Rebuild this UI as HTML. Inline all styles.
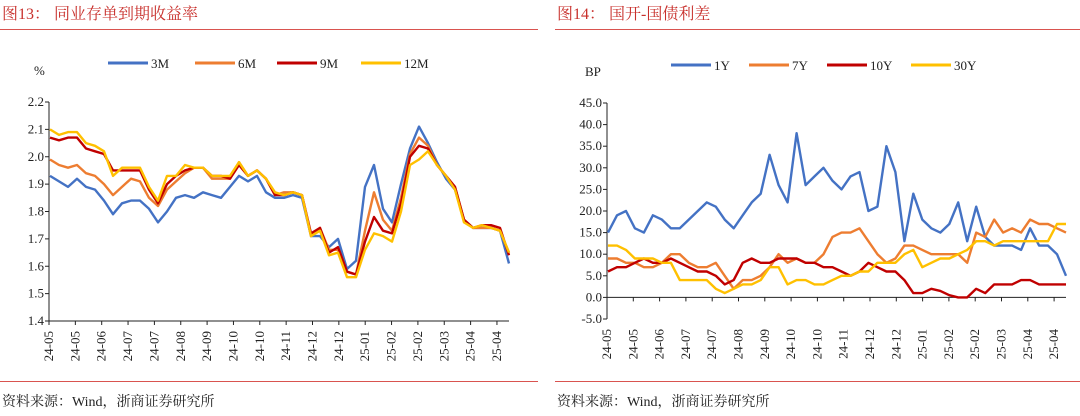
<!DOCTYPE html>
<html><head><meta charset="utf-8"><style>
body{margin:0;background:#fff;width:1080px;height:411px;overflow:hidden}
svg text{font-family:"Liberation Serif","Noto Serif CJK SC",serif}
</style></head><body>
<svg id="svg" width="1080" height="411" xmlns="http://www.w3.org/2000/svg">
<text x="2" y="19" font-size="16" fill="#c8302c">图13：  同业存单到期收益率</text>
<line x1="0" y1="29.5" x2="538" y2="29.5" stroke="#d9534f" stroke-width="1"/>
<line x1="0" y1="381.5" x2="538" y2="381.5" stroke="#d9534f" stroke-width="1"/>
<text x="2" y="406" font-size="14" fill="#222">资料来源：Wind，浙商证券研究所</text>
<text x="557" y="19" font-size="16" fill="#c8302c">图14：  国开-国债利差</text>
<line x1="555" y1="29.5" x2="1080" y2="29.5" stroke="#d9534f" stroke-width="1"/>
<line x1="555" y1="381.5" x2="1080" y2="381.5" stroke="#d9534f" stroke-width="1"/>
<text x="557" y="406" font-size="14" fill="#222">资料来源：Wind，浙商证券研究所</text>
<g id="L"></g><g id="R"></g>
</svg>
<script>
const xLabels=["24-05","24-05","24-06","24-07","24-07","24-08","24-09","24-10","24-10","24-11","24-12","24-12","25-01","25-02","25-02","25-03","25-04","25-04"];
const leftNames=["3M","6M","9M","12M"];
const s3M=[1.93,1.91,1.89,1.92,1.89,1.88,1.84,1.79,1.83,1.84,1.84,1.81,1.76,1.80,1.85,1.86,1.85,1.87,1.86,1.85,1.89,1.93,1.91,1.93,1.87,1.85,1.85,1.86,1.85,1.71,1.71,1.67,1.70,1.59,1.62,1.89,1.97,1.81,1.76,1.90,2.03,2.11,2.05,1.98,1.92,1.88,1.77,1.74,1.74,1.74,1.73,1.61];
const s6M=[1.99,1.97,1.96,1.97,1.94,1.93,1.90,1.86,1.89,1.92,1.91,1.85,1.82,1.88,1.91,1.94,1.96,1.96,1.92,1.92,1.92,1.98,1.93,1.95,1.92,1.86,1.87,1.87,1.86,1.71,1.74,1.66,1.66,1.58,1.57,1.73,1.87,1.77,1.73,1.85,2.01,2.07,2.04,1.97,1.93,1.89,1.77,1.74,1.74,1.74,1.73,1.65];
const s9M=[2.07,2.06,2.07,2.07,2.03,2.02,2.01,1.95,1.95,1.95,1.95,1.88,1.83,1.90,1.93,1.95,1.96,1.96,1.93,1.93,1.92,1.97,1.93,1.95,1.92,1.86,1.86,1.87,1.86,1.72,1.74,1.65,1.67,1.58,1.57,1.69,1.78,1.73,1.72,1.83,2.00,2.04,2.03,1.97,1.93,1.89,1.77,1.74,1.75,1.75,1.74,1.64];
const s12M=[2.10,2.08,2.09,2.09,2.05,2.04,2.02,1.93,1.96,1.96,1.96,1.89,1.84,1.93,1.93,1.97,1.96,1.96,1.93,1.93,1.93,1.98,1.93,1.95,1.92,1.87,1.86,1.87,1.86,1.71,1.73,1.64,1.65,1.56,1.56,1.66,1.72,1.71,1.69,1.80,1.97,1.99,2.02,1.97,1.93,1.88,1.76,1.74,1.75,1.74,1.73,1.65];
const leftTicks=["2.2","2.1","2.0","1.9","1.8","1.7","1.6","1.5","1.4"];
const rightNames=["1Y","7Y","10Y","30Y"];
const s1Y=[15,19,20,16,15,19,18,16,16,18,20,22,21,18,16,19,22,24,33,26,22,38,26,28,30,27,25,28,29,20,21,35,29,13,24,18,16,15,17,22,13,21,14,12,12,12,11,16,12,12,10,5];
const s7Y=[9,9,8,8,7,7,8,10,10,8,7,7,8,5,2,4,4,5,7,10,8,9,8,8,10,14,15,15,16,13,10,8,9,12,12,11,10,10,10,10,8,15,14,18,15,16,15,18,17,17,16,15];
const s10Y=[6,7,7,8,9,8,8,9,8,7,6,6,5,3,4,8,9,8,8,9,9,9,8,8,7,7,6,5,6,8,7,6,6,4,1,1,2,1.5,0.5,0,0,2,1,3,3,3,4,4,3,3,3,3];
const s30Y=[12,12,11,9,9,9,8,8,4,4,4,4,2,1,2,3,3,4,7,7,3,4,4,3,3,4,5,5,6,6,8,8,8,10,11,7,8,9,9,10,11,13,13,12,13,13,13,13,13,13,17,17];
const rightTicks=["45.0","40.0","35.0","30.0","25.0","20.0","15.0","10.0","5.0","0.0","-5.0"];
const colors=["#4472c4","#ed7d31","#c00000","#ffc000"];
const NS="http://www.w3.org/2000/svg";
function mk(g,t,a){const e=document.createElementNS(NS,t);for(const k in a)e.setAttribute(k,a[k]);g.appendChild(e);return e;}
function draw(g,cfg){
  const {x0,x1,y0,y1,vmax,vmin,ticks,series,names,tickStart,tickStep,zeroV,lx}=cfg;
  const yS=v=>y0+(vmax-v)/(vmax-vmin)*(y1-y0);
  const xAxisY=yS(zeroV);
  ticks.forEach((t,i)=>{const v=parseFloat(t);const y=yS(v);
    const tx=mk(g,"text",{x:x0-5,y:y+4,"font-size":"13","text-anchor":"end",fill:"#222"});tx.textContent=t;
    
    
    mk(g,"line",{x1:x0-4,x2:x0,y1:y,y2:y,stroke:"#222"});
  });
  const ya=mk(g,"line",{x1:x0,x2:x0,y1:y0,y2:y1,stroke:"#222","stroke-width":1});
  
  
  const xa=mk(g,"line",{x1:x0,x2:x1,y1:xAxisY,y2:xAxisY,stroke:"#222","stroke-width":1});
  
  
  xLabels.forEach((l,i)=>{const x=tickStart+i*tickStep;
    mk(g,"line",{x1:x,x2:x,y1:xAxisY,y2:xAxisY+4,stroke:"#222"});
    const t=mk(g,"text",{x:0,y:0,"font-size":"13",fill:"#222","text-anchor":"end",transform:`translate(${x+4},${y1+10}) rotate(-90)`});t.textContent=l;
    
    
  });
  series.forEach((s,k)=>{const n=s.length;const pts=s.map((v,i)=>`${(x0+1+i*(x1-x0-1)/(n-1)).toFixed(1)},${yS(v).toFixed(1)}`).join(" ");
    const p=mk(g,"polyline",{points:pts,fill:"none",stroke:colors[k],"stroke-width":2.4,"stroke-linejoin":"round"});
    
    
  });
  names.forEach((nm,k)=>{const lxk=lx[k];
    const l=mk(g,"line",{x1:lxk,x2:lxk+40,y1:cfg.ly,y2:cfg.ly,stroke:colors[k],"stroke-width":3});
    
    
    const t=mk(g,"text",{x:lxk+43,y:cfg.ly+5,"font-size":"13",fill:"#222"});t.textContent=nm;
    
    
  });
  const u=mk(g,"text",{x:cfg.ux,y:cfg.uy,"font-size":"13",fill:"#222"});u.textContent=cfg.unit;
  
  
}
draw(document.getElementById("L"),{x0:49,x1:509,y0:102,y1:321,vmax:2.2,vmin:1.4,ticks:leftTicks,series:[s3M,s6M,s9M,s12M],names:leftNames,tickStart:49,tickStep:26.35,zeroV:1.4,lx:[108,195,277,361],ly:63,unit:"%",ux:34,uy:75});
draw(document.getElementById("R"),{x0:607,x1:1066,y0:103,y1:319,vmax:45,vmin:-5,ticks:rightTicks,series:[s1Y,s7Y,s10Y,s30Y],names:rightNames,tickStart:607,tickStep:26.3,zeroV:0,lx:[671,749,827,911],ly:65,unit:"BP",ux:585,uy:76});
</script>
</body></html>
